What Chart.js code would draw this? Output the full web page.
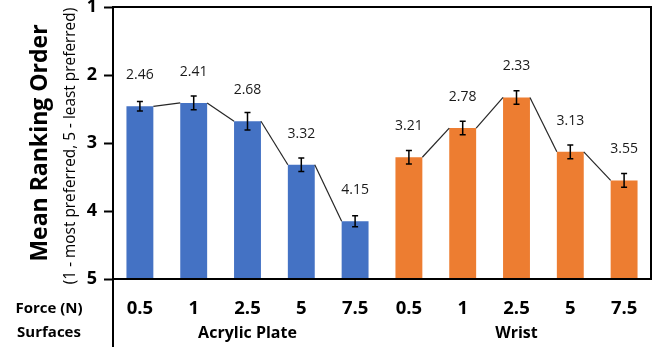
<!DOCTYPE html>
<html><head><meta charset="utf-8">
<script src="https://cdn.jsdelivr.net/npm/chart.js@4.4.1/dist/chart.umd.min.js"></script>
<style>html,body{margin:0;padding:0;background:#fff;} canvas{display:block;}</style>
</head><body>
<canvas id="c" width="660" height="349"></canvas>
<script>
const forceLabels = ['0.5','1','2.5','5','7.5','0.5','1','2.5','5','7.5'];
const surfaces = ['Acrylic Plate','Wrist'];
const acrylicMeans = [2.46, 2.41, 2.68, 3.32, 4.15];
const acrylicErrors = [0.07, 0.10, 0.13, 0.10, 0.08];
const wristMeans = [3.21, 2.78, 2.33, 3.13, 3.55];
const wristErrors = [0.10, 0.10, 0.10, 0.10, 0.10];
const yTitle = 'Mean Ranking Order';
const ySubtitle = '(1 - most preferred, 5 - least preferred)';
const rowLabels = ['Force (N)', 'Surfaces'];

const FONT = "'Open Sans', sans-serif";
const empty = [null, null, null, null, null];

const overlay = {
  id: 'overlay',
  afterDatasetsDraw(chart) {
    const ctx = chart.ctx, ys = chart.scales.y;
    chart.data.datasets.forEach((ds, di) => {
      const meta = chart.getDatasetMeta(di);
      ctx.save();
      ctx.strokeStyle = '#262626'; ctx.lineWidth = 1.2;
      let prev = null;
      meta.data.forEach((el, i) => {
        const v = ds.data[i];
        if (v == null) { prev = null; return; }
        if (prev) {
          ctx.beginPath();
          ctx.moveTo(prev.x + prev.width / 2, prev.y);
          ctx.lineTo(el.x - el.width / 2, el.y);
          ctx.stroke();
        }
        prev = el;
      });
      meta.data.forEach((el, i) => {
        const v = ds.data[i];
        if (v == null) return;
        const e = ds.errors[i];
        const y1 = ys.getPixelForValue(v - e), y2 = ys.getPixelForValue(v + e);
        ctx.strokeStyle = '#000'; ctx.lineWidth = 1.5;
        ctx.beginPath();
        ctx.moveTo(el.x, y1); ctx.lineTo(el.x, y2);
        ctx.moveTo(el.x - 3, y1); ctx.lineTo(el.x + 3, y1);
        ctx.moveTo(el.x - 3, y2); ctx.lineTo(el.x + 3, y2);
        ctx.stroke();
        ctx.fillStyle = '#1a1a1a';
        ctx.font = '14px ' + FONT;
        ctx.textAlign = 'center'; ctx.textBaseline = 'middle';
        ctx.fillText(v.toFixed(2), el.x, el.y - 31);
      });
      ctx.restore();
    });
  },
  afterDraw(chart) {
    const { ctx, chartArea: a, scales: { x } } = chart;
    ctx.save();
    ctx.strokeStyle = '#000'; ctx.lineWidth = 2;
    ctx.strokeRect(a.left, a.top, a.right - a.left, a.bottom - a.top);
    ctx.beginPath(); ctx.moveTo(a.left, a.bottom); ctx.lineTo(a.left, 347); ctx.stroke();
    ctx.fillStyle = '#000';
    ctx.textAlign = 'center'; ctx.textBaseline = 'middle';
    ctx.font = 'bold 15px ' + FONT;
    ctx.fillText(rowLabels[0], 49, 309);
    ctx.fillText(rowLabels[1], 49, 333);
    ctx.font = 'bold 16px ' + FONT;
    surfaces.forEach((s, g) => {
      const cx = (x.getPixelForValue(g * 5) + x.getPixelForValue(g * 5 + 4)) / 2;
      ctx.fillText(s, cx, 333);
    });
    ctx.save();
    ctx.translate(40, 143); ctx.rotate(-Math.PI / 2);
    ctx.font = 'bold 23px ' + FONT;
    ctx.fillText(yTitle, 0, 0);
    ctx.restore();
    ctx.save();
    ctx.translate(71, 146); ctx.rotate(-Math.PI / 2);
    ctx.font = '15.4px ' + FONT;
    ctx.fillText(ySubtitle, 0, 0);
    ctx.restore();
    ctx.restore();
  }
};

new Chart(document.getElementById('c'), {
  type: 'bar',
  data: {
    labels: forceLabels,
    datasets: [
      { label: surfaces[0], data: acrylicMeans.concat(empty), errors: acrylicErrors.concat(empty),
        backgroundColor: '#4472C4', base: 5, grouped: false, barPercentage: 0.5, categoryPercentage: 1.0 },
      { label: surfaces[1], data: empty.concat(wristMeans), errors: empty.concat(wristErrors),
        backgroundColor: '#ED7D31', base: 5, grouped: false, barPercentage: 0.5, categoryPercentage: 1.0 }
    ]
  },
  options: {
    responsive: false,
    animation: false,
    layout: { padding: { left: 0, right: 9, top: 7, bottom: 0 } },
    plugins: { legend: { display: false }, tooltip: { enabled: false } },
    scales: {
      x: {
        grid: { display: false, drawTicks: false },
        border: { display: true, color: '#000', width: 2 },
        ticks: { color: '#000', font: { family: FONT, size: 18.5, weight: 'bold' }, padding: 19, maxRotation: 0, autoSkip: false },
        afterFit(s) { s.height = 70; s.paddingLeft = 0; s.paddingRight = 0; }
      },
      y: {
        reverse: true, min: 1, max: 5,
        grid: { drawOnChartArea: false, drawTicks: true, tickLength: 9, tickColor: '#000', tickWidth: 2 },
        border: { display: true, color: '#000', width: 2 },
        ticks: { stepSize: 1, color: '#000', font: { family: FONT, size: 18, weight: 'bold' }, padding: 7 },
        afterFit(s) { s.width = 113; s.paddingTop = 0; s.paddingBottom = 0; }
      }
    }
  },
  plugins: [overlay]
});
</script>
</body></html>
